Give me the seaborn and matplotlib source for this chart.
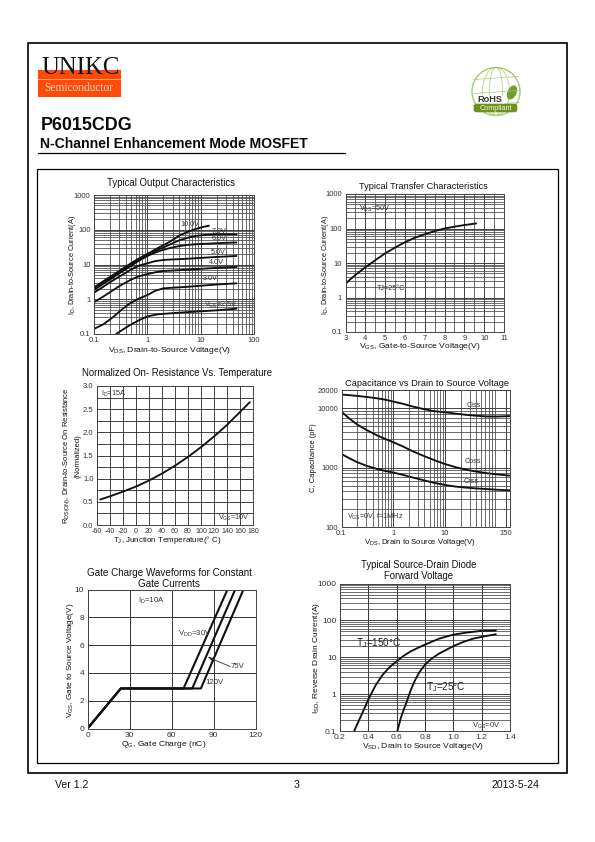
import numpy as np
import pandas as pd
import matplotlib
matplotlib.use("Agg")
import matplotlib.pyplot as plt
from matplotlib.patches import Rectangle, Circle, Ellipse, FancyBboxPatch, Polygon
import seaborn as sns

sns.set_theme(style="white")
plt.rcParams['font.family'] = ['Liberation Sans', 'DejaVu Sans']
plt.rcParams['mathtext.fontset'] = 'custom'
plt.rcParams['mathtext.rm'] = 'Liberation Sans'

W, H = 595, 842

# ---- data ----
out_10v_x = [0.1, 0.15, 0.2, 0.3, 0.5, 0.7, 1, 1.4, 2, 2.7, 4, 6, 8.5, 11, 14.3]
out_10v_y = [2.2, 3.3, 4.4, 6.6, 11, 15, 20, 27, 36, 46, 68, 90, 108, 120, 131]
out_7v_x = [0.1, 0.15, 0.2, 0.3, 0.5, 0.7, 1, 1.4, 2, 2.7, 4, 6, 8.5, 12, 20, 30, 47]
out_7v_y = [2.0, 3.1, 4.1, 6.2, 10.2, 14, 19, 24.5, 31, 38, 50, 60, 67, 71, 74, 74, 74]
out_6v_x = [0.1, 0.15, 0.2, 0.3, 0.5, 0.7, 1, 1.4, 2, 2.7, 4, 6, 10, 20, 47]
out_6v_y = [1.85, 2.8, 3.7, 5.6, 9.2, 13, 17.5, 22, 26.5, 30, 34, 37, 39, 41, 43]
out_5v_x = [0.1, 0.15, 0.2, 0.3, 0.5, 0.7, 1, 1.4, 2, 3, 5, 10, 20, 47]
out_5v_y = [1.55, 2.3, 3.1, 4.5, 7.2, 9.3, 10.8, 12.5, 13.5, 14, 14.5, 15.5, 16.5, 17.6]
out_4v_x = [0.1, 0.15, 0.2, 0.3, 0.5, 0.7, 1, 1.4, 2, 3, 5, 10, 20, 47]
out_4v_y = [0.82, 1.2, 1.6, 2.4, 3.7, 4.6, 5.3, 5.95, 6.5, 6.7, 7.0, 7.5, 8.0, 8.5]
out_3v_x = [0.1, 0.15, 0.23, 0.33, 0.47, 0.7, 1, 1.4, 2, 3, 5, 10, 20, 47]
out_3v_y = [0.14, 0.19, 0.31, 0.5, 0.76, 1.05, 1.32, 1.75, 2.06, 2.15, 2.25, 2.45, 2.65, 2.87]
out_25v_x = [0.26, 0.35, 0.47, 0.7, 1, 1.3, 1.6, 2.5, 5, 10, 20, 47]
out_25v_y = [0.1, 0.135, 0.18, 0.25, 0.32, 0.35, 0.37, 0.39, 0.42, 0.45, 0.48, 0.536]

tr_vgs = [3, 3.25, 3.5, 3.75, 4, 4.5, 5, 5.5, 6, 6.5, 7, 7.5, 8, 8.5, 9, 9.6]
tr_id = [2.5, 3.4, 4.5, 5.8, 7.5, 12, 19, 28, 40, 54, 68, 84, 100, 113, 126, 140]

rt_temp = [-55, -40, -20, 0, 20, 40, 60, 80, 100, 120, 140, 160, 175]
rt_res = [0.55, 0.62, 0.72, 0.83, 0.96, 1.11, 1.28, 1.47, 1.68, 1.91, 2.16, 2.44, 2.65]

cap_v = [0.1, 0.14, 0.2, 0.3, 0.48, 0.7, 1, 1.5, 2.4, 3.7, 5.9, 10, 16, 26, 40, 64, 100, 175]
cap_iss = [17100, 16700, 16200, 15600, 14800, 14000, 13000, 12000, 10700, 9800, 9000, 8600,
           8150, 7760, 7500, 7300, 7280, 7400]
cap_oss = [8770, 6800, 5350, 4350, 3520, 3050, 2680, 2300, 1880, 1600, 1360, 1150,
           1020, 920, 860, 807, 770, 736]
cap_rss = [1695, 1450, 1240, 1080, 955, 880, 828, 760, 681, 620, 560, 510,
           480, 460, 447, 436, 425, 415]

qg_x30 = [0, 23.8, 68.6, 100]
qg_x75 = [0, 23.8, 74.8, 105.5]
qg_x120 = [0, 23.8, 81, 111.4]
qg_y = [0, 2.88, 2.88, 10]

sd_v150 = [0.3, 0.33, 0.36, 0.4, 0.45, 0.5, 0.55, 0.6, 0.65, 0.7, 0.75, 0.8, 0.9, 1.0, 1.1, 1.2, 1.3]
sd_i150 = [0.1, 0.18, 0.32, 0.72, 1.7, 3.3, 5.4, 7.8, 11, 14.5, 18, 22, 32, 41, 47, 52, 53]
sd_v25 = [0.605, 0.63, 0.65, 0.67, 0.7, 0.73, 0.76, 0.8, 0.85, 0.9, 1.0, 1.07, 1.14, 1.22, 1.3]
sd_i25 = [0.1, 0.23, 0.38, 0.61, 1.3, 2.4, 3.9, 6.3, 9.4, 12.6, 20, 26, 32, 37, 42]

TXT = '#111111'

fig = plt.figure(figsize=(W / 100, H / 100), dpi=100, facecolor='white')
bg = fig.add_axes([0, 0, 1, 1], zorder=-5)
bg.set_xlim(0, W)
bg.set_ylim(H, 0)
bg.axis('off')


def make_axes(l, t, r, b):
    ax = fig.add_axes([l / W, 1 - b / H, (r - l) / W, (b - t) / H])
    ax.set_facecolor('white')
    for s in ax.spines.values():
        s.set_linewidth(0.7)
        s.set_color('#444444')
    ax.tick_params(axis='both', which='both', length=0, labelsize=5.5, colors='#333333', pad=2.5)
    return ax


def log_grid(ax, xlog=True, ylog=True):
    ax.grid(True, which='major', color='#333333', linewidth=0.65)
    ax.minorticks_on()
    ax.grid(True, which='minor', color='#444444', linewidth=0.55)
    ax.tick_params(which='minor', length=0, labelbottom=False, labelleft=False)
    if not xlog:
        ax.xaxis.grid(False, which='minor')
    if not ylog:
        ax.yaxis.grid(False, which='minor')
    ax.set_axisbelow(True)


def curve(ax, x, y, lw=1.35):
    d = pd.DataFrame({'x': x, 'y': y})
    sns.lineplot(data=d, x='x', y='y', ax=ax, color='#111111', lw=lw, estimator=None, sort=False)
    ax.set_xlabel('')
    ax.set_ylabel('')


def page_text(x, y, s, size=6.7, ha='center', va='center', rot=0, color=TXT, weight='normal', family=None):
    kw = {'family': family} if family else {}
    bg.text(x, y, s, fontsize=size, ha=ha, va=va, rotation=rot, color=color, fontweight=weight, **kw)


def over_text(x, y, s, size=5.2, ha='left', color='#333333', rot=0):
    fig.text(x / W, 1 - y / H, s, fontsize=size, ha=ha, va='center', color=color, rotation=rot, zorder=20)


# ---- page frame ----
bg.add_patch(Rectangle((27.5, 43), 539.2, 730, fill=False, ec='black', lw=1.2))
bg.add_patch(Rectangle((37, 169.3), 520.7, 593.7, fill=False, ec='black', lw=0.9))
bg.plot([38, 345], [153.4, 153.4], color='black', lw=0.9)

# ---- logo ----
bg.add_patch(Rectangle((38, 70), 83, 26.7, fc='#ff4a0a', ec='none'))
bg.plot([38, 121], [79.4, 79.4], color='#ffd9a0', lw=0.5)
page_text(41, 68, 'UNIKC', size=17.8, ha='left', color='#111111', family='Liberation Serif')
page_text(44.5, 88.3, 'Semiconductor', size=8.3, ha='left', color='#ffd8c4', family='Liberation Serif')
page_text(41, 125, 'P6015CDG', size=12.9, ha='left', weight='bold', color='#0a0a0a')
page_text(40.5, 144, 'N-Channel Enhancement Mode MOSFET', size=10.1, ha='left', weight='bold', color='#0a0a0a')

# ---- RoHS globe ----
G = '#a5cc70'
gx, gy = 496, 91.5
bg.add_patch(Circle((gx, gy), 24, fill=False, ec=G, lw=1.0))
for w in (9, 18):
    bg.add_patch(Ellipse((gx, gy), w * 1.5, 48, fill=False, ec=G, lw=0.5))
for dy in (-12, 2, 14):
    bg.plot([gx - 23, gx + 23], [gy + dy, gy + dy - 3], color=G, lw=0.5)
bg.add_patch(Ellipse((512, 92.5), 9, 15, angle=25, fc='#6f9e2e', ec='none'))
bg.add_patch(Rectangle((476, 94.5), 30, 9, fc='white', ec='none', zorder=3))
bg.add_patch(FancyBboxPatch((476.5, 106.5), 38, 3, boxstyle='round,pad=2.8', fc='#6f8f1e', ec='none', zorder=3))
bg.text(490, 99, 'RoHS', fontsize=6.6, fontweight='bold', color='#333333', ha='center', va='center', zorder=4)
bg.text(495.7, 108, 'Compliant', fontsize=5.2, color='#eef5dc', ha='center', va='center', zorder=4)

# ---- 1 output characteristics ----
ax = make_axes(94, 195, 254, 334)
for x, y in ((out_10v_x, out_10v_y), (out_7v_x, out_7v_y), (out_6v_x, out_6v_y), (out_5v_x, out_5v_y),
             (out_4v_x, out_4v_y), (out_3v_x, out_3v_y), (out_25v_x, out_25v_y)):
    curve(ax, x, y)
ax.set_xscale('log')
ax.set_yscale('log')
ax.set_xlim(0.1, 100)
ax.set_ylim(0.1, 1000)
ax.set_xticks([0.1, 1, 10, 100], ['0.1', '1', '10', '100'])
ax.set_yticks([0.1, 1, 10, 100, 1000], ['0.1', '1', '10', '100', '1000'])
log_grid(ax)
page_text(171, 183, 'Typical Output Characteristics', size=6.9)
page_text(169, 350, r'V$_{\mathrm{DS}}$, Drain-to-Source Voltage(V)', size=6.1)
page_text(72.5, 265, r'I$_{\mathrm{D}}$, Drain-to-Source Current(A)', size=5.3, rot=90)
for x, y, s in [(180, 224, '10.0V'), (212, 231.7, '7.0V'), (212, 238.5, '6.0V'), (211, 252.5, '5.0V'),
                (209, 263, '4.0V'), (203, 279, '3.0V'), (204, 305, 'V$_{\\mathrm{GS}}$=2.5V')]:
    over_text(x, y, s)

# ---- 2 transfer ----
ax = make_axes(345.5, 194, 504, 332)
curve(ax, tr_vgs, tr_id)
ax.set_yscale('log')
ax.set_xlim(3, 11)
ax.set_ylim(0.1, 1000)
ax.set_xticks(range(3, 12), [str(i) for i in range(3, 12)])
ax.set_yticks([0.1, 1, 10, 100, 1000], ['0.1', '1', '10', '100', '1000'])
log_grid(ax, xlog=False)
ax.set_xticks(np.arange(3, 11.01, 0.5), minor=True)
ax.tick_params(which='minor', length=0, labelbottom=False)
ax.xaxis.grid(True, which='minor', color='#444444', linewidth=0.55)
page_text(423, 186.7, 'Typical Transfer Characteristics', size=6.6)
page_text(419.5, 347, r'V$_{\mathrm{GS}}$, Gate-to-Source Voltage(V)', size=6.1)
page_text(325.5, 265, r'I$_{\mathrm{D}}$, Drain-to-Source Current(A)', size=5.3, rot=90)
over_text(359, 208.5, 'V$_{\\mathrm{DS}}$=50V')
over_text(377, 288.5, 'TJ=25°C')

# ---- 3 on-resistance ----
ax = make_axes(97, 386, 253, 525)
curve(ax, rt_temp, rt_res)
ax.set_xlim(-60, 180)
ax.set_ylim(0, 3)
ax.set_xticks(range(-60, 181, 20), [str(i) for i in range(-60, 181, 20)])
ax.set_yticks(np.arange(0, 3.01, 0.5), [f'{v:.1f}' for v in np.arange(0, 3.01, 0.5)])
ax.set_yticks(np.arange(0, 3.01, 0.25), minor=True)
ax.grid(True, which='both', color='#333333', linewidth=0.65)
ax.set_axisbelow(True)
ax.tick_params(axis='x', labelsize=5.1)
page_text(177, 373, 'Normalized On- Resistance Vs. Temperature', size=6.9)
page_text(167, 540.5, 'T$_{\\mathrm{J}}$, Junction Temperature(° C)', size=5.8)
page_text(67, 456, 'R$_{\\mathrm{DS(ON)}}$, Drain-to-Source On Resistance', size=5.5, rot=90)
page_text(78, 456, '(Normalized)', size=5.5, rot=90)
over_text(101, 393.5, 'I$_{\\mathrm{D}}$=15A')
over_text(218, 518, 'V$_{\\mathrm{GS}}$=10V')

# ---- 4 capacitance ----
ax = make_axes(341.5, 390.5, 509.5, 527)
for y in (cap_iss, cap_oss, cap_rss):
    curve(ax, cap_v, y)
ax.set_xscale('log')
ax.set_yscale('log')
ax.set_xlim(0.1, 175)
ax.set_ylim(100, 20000)
ax.set_xticks([0.1, 1, 10, 150], ['0.1', '1', '10', '150'])
ax.set_yticks([100, 1000, 10000, 20000], ['100', '1000', '10000', '20000'])
log_grid(ax)
page_text(426.7, 383.3, 'Capacitance vs Drain to Source Voltage', size=6.65)
page_text(420, 542.5, 'V$_{\\mathrm{DS}}$, Drain to Source Voltage(V)', size=5.6)
page_text(313.5, 458, 'C, Capacitance (pF)', size=5.5, rot=90)
over_text(467, 405.5, 'Ciss')
over_text(464.5, 461.5, 'Coss')
over_text(464, 481.5, 'Crss')
over_text(347, 517, 'V$_{\\mathrm{GS}}$=0V, f=1MHz')

# ---- 5 gate charge ----
ax = make_axes(87.5, 589.5, 255.5, 728.5)
for x in (qg_x30, qg_x75, qg_x120):
    curve(ax, x, qg_y, lw=1.5)
ax.set_xlim(0, 120)
ax.set_ylim(0, 10)
ax.set_xticks([0, 30, 60, 90, 120], ['0', '30', '60', '90', '120'])
ax.set_yticks(range(0, 11, 2), [str(i) for i in range(0, 11, 2)])
ax.tick_params(labelsize=6.0)
ax.grid(True, which='major', color='#333333', linewidth=0.7)
ax.set_axisbelow(True)
page_text(169, 573, 'Gate Charge Waveforms for Constant', size=7.1)
page_text(169, 584, 'Gate Currents', size=7.1)
page_text(164, 744, 'Q$_{\\mathrm{G}}$, Gate Charge (nC)', size=6.1)
page_text(70, 660, 'V$_{\\mathrm{GS}}$, Gate to Source Voltage(V)', size=5.9, rot=90)
over_text(137.5, 600.7, 'I$_{\\mathrm{D}}$=10A', size=5.6)
over_text(178, 633.5, 'V$_{\\mathrm{DD}}$=30V', size=5.6)
over_text(231, 667, '75V', size=5.6)
over_text(205, 682.7, '120V', size=5.6)
fig.add_artist(plt.Line2D([230 / W, 209 / W], [1 - 666.5 / H, 1 - 657.5 / H], color='#444444', lw=0.7, zorder=15))
bg2 = fig.add_axes([0, 0, 1, 1], zorder=10)
bg2.set_xlim(0, W)
bg2.set_ylim(H, 0)
bg2.axis('off')
bg2.add_patch(Polygon([(208, 657), (215, 658.2), (213, 661.8)], fc='black', ec='none'))

# ---- 6 diode ----
ax = make_axes(340, 583.5, 510, 731)
curve(ax, sd_v150, sd_i150)
curve(ax, sd_v25, sd_i25)
ax.set_yscale('log')
ax.set_xlim(0.2, 1.4)
ax.set_ylim(0.1, 1000)
ax.set_xticks(np.arange(0.2, 1.41, 0.2), [f'{v:.1f}' for v in np.arange(0.2, 1.41, 0.2)])
ax.set_yticks([0.1, 1, 10, 100, 1000], ['0.1', '1', '10', '100', '1000'])
log_grid(ax, xlog=False)
ax.tick_params(labelsize=6.0)
ax.xaxis.grid(True, which='major', color='#333333', linewidth=0.7)
page_text(419, 565, 'Typical Source-Drain Diode', size=6.85)
page_text(419, 575.7, 'Forward Voltage', size=6.85)
page_text(423, 746.5, 'V$_{\\mathrm{SD}}$, Drain to Source Voltage(V)', size=6.1)
page_text(316.5, 658, 'I$_{\\mathrm{SD}}$, Reverse Drain Current(A)', size=6.0, rot=90)
over_text(356, 643, 'T$_{\\mathrm{J}}$=150°C', size=7.2, color='#222222')
over_text(426, 687.5, 'T$_{\\mathrm{J}}$=25°C', size=7.2, color='#222222')
over_text(472, 725.7, 'V$_{\\mathrm{GS}}$=0V', size=5.4)

# ---- footer ----
page_text(55, 784.5, 'Ver 1.2', size=7.6, ha='left')
page_text(297, 784.5, '3', size=7.6)
page_text(540, 784.5, '2013-5-24', size=7.6, ha='right')

fig.savefig('out.png', dpi=100, facecolor='white')
